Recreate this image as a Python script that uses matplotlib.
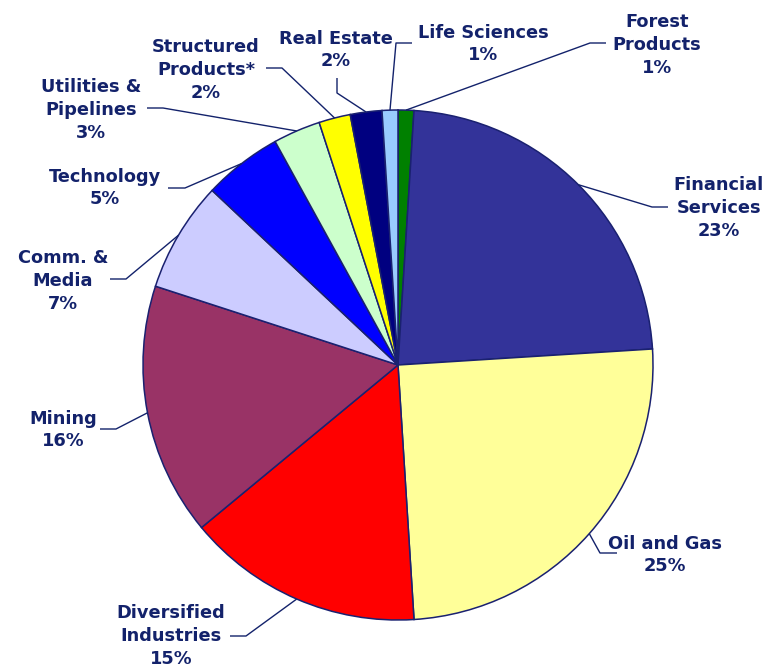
import matplotlib
matplotlib.use("Agg")
import matplotlib.pyplot as plt
import numpy as np

W, H = 765, 668

sectors = ['Forest\nProducts', 'Financial\nServices', 'Oil and Gas', 'Diversified\nIndustries',
           'Mining', 'Comm. &\nMedia', 'Technology', 'Utilities &\nPipelines',
           'Structured\nProducts*', 'Real Estate', 'Life Sciences']
shares = [1, 23, 25, 15, 16, 7, 5, 3, 2, 2, 1]
colors = ['#008000', '#333399', '#FFFF99', '#FF0000', '#993366', '#CCCCFF',
          '#0000FF', '#CCFFCC', '#FFFF00', '#000080', '#99CCFF']

# label placement in picture pixels: text centre, leader elbow, leader end
text_xy = [(657, 45), (719, 208), (665, 555), (171, 636), (63, 430), (63, 281),
           (105, 188), (91, 110), (206, 70), (336, 50), (483, 44)]
elbow_xy = [(590, 43), (652, 207), (600, 553), (246, 636), (116, 429), (126, 279),
            (185, 188), (163, 108), (282, 68), (337, 93), (396, 43)]
end_xy = [(606, 43), (668, 207), (617, 553), (230, 636), (100, 429), (110, 279),
          (168, 188), (147, 108), (266, 68), (337, 78), (412, 43)]

navy = '#13226b'
cx, cy, r = 398, H - 365, 255

fig = plt.figure(figsize=(W / 100, H / 100), dpi=100)
ax = fig.add_axes([0, 0, 1, 1])
wedges, _ = ax.pie(shares, colors=colors, startangle=90, counterclock=False,
                   center=(cx, cy), radius=r,
                   wedgeprops=dict(edgecolor='#1a2170', linewidth=1.1))
ax.set_xlim(0, W)
ax.set_ylim(0, H)
ax.set_aspect('equal')
ax.axis('off')

for w, name, v, t, e, f in zip(wedges, sectors, shares, text_xy, elbow_xy, end_xy):
    th = np.deg2rad((w.theta1 + w.theta2) / 2)
    px, py = cx + r * np.cos(th), cy + r * np.sin(th)
    ax.plot([px, e[0], f[0]], [py, H - e[1], H - f[1]], color=navy, lw=1.0,
            solid_capstyle='butt')
    ax.text(t[0], H - t[1], f'{name}\n{v}%', ha='center', va='center',
            fontsize=12.8, fontweight='bold', color=navy, linespacing=1.33)

fig.savefig('out.png', dpi=100)
